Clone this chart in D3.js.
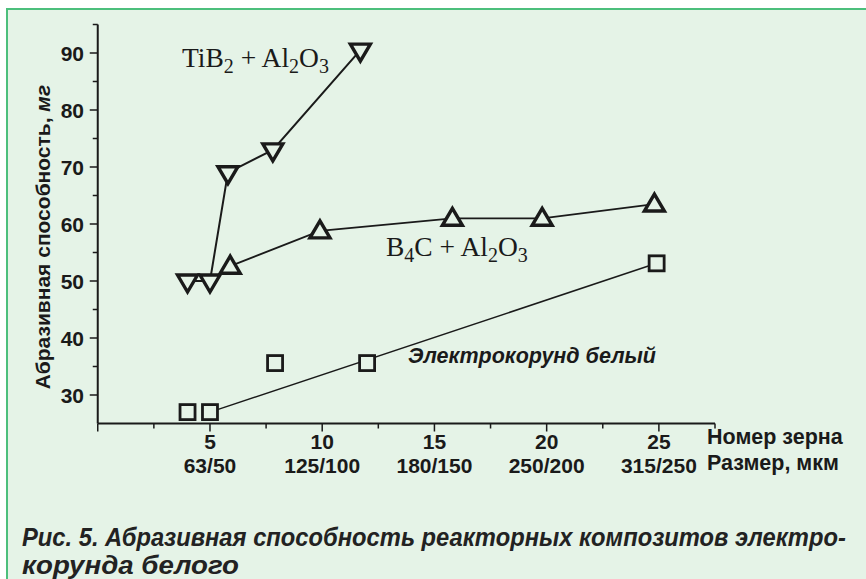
<!DOCTYPE html>
<html><head><meta charset="utf-8">
<script src="https://cdn.jsdelivr.net/npm/d3@7/dist/d3.min.js"></script>
<style>
html,body{margin:0;padding:0;background:#fff;}
svg{display:block;}
</style></head>
<body>
<svg id="chart" width="866" height="579"></svg>
<script>
// ---- data ----
const tib2X = [4, 5, 5.8, 7.8, 11.7];
const tib2Y = [50, 50, 69, 73, 90.5];
const b4cX = [5.9, 9.9, 15.8, 19.8, 24.8];
const b4cY = [52.6, 58.8, 61, 61, 63.5];
const corX = [4, 5, 7.9, 12, 24.9];
const corY = [27, 27, 35.6, 35.6, 53.1];
const corTrendX = [5, 24.9];
const corTrendY = [27, 53.1];
const grainTicks = [5, 10, 15, 20, 25];
const sizeLabels = ["63/50", "125/100", "180/150", "250/200", "315/250"];
const yTicks = [30, 40, 50, 60, 70, 80, 90];

const svg = d3.select("#chart");
const bg = "#e5f3e7", border = "#4cbf7c", ink = "#1a1a1a";

// panel
svg.append("rect").attr("x", 0).attr("y", 0).attr("width", 866).attr("height", 579).attr("fill", "#fff");
svg.append("rect").attr("x", 6).attr("y", 8).attr("width", 860).attr("height", 571).attr("fill", bg);
svg.append("rect").attr("x", 6).attr("y", 8).attr("width", 860).attr("height", 2).attr("fill", border);
svg.append("rect").attr("x", 6).attr("y", 8).attr("width", 2).attr("height", 571).attr("fill", border);

const x = d3.scaleLinear().domain([0, 27.5]).range([97.75, 715]);
const y = d3.scaleLinear().domain([25, 95]).range([423.5, 24.5]);

// axes lines
const g = svg.append("g");
g.append("line").attr("x1", x(0)).attr("x2", x(0)).attr("y1", y(95)).attr("y2", y(25))
  .attr("stroke", ink).attr("stroke-width", 2);
g.append("line").attr("x1", x(0)).attr("x2", x(27.5)).attr("y1", y(25)).attr("y2", y(25))
  .attr("stroke", ink).attr("stroke-width", 2);

// y ticks (every 5)
const yMinor = d3.range(30, 96, 5);
g.selectAll(".yt").data(yMinor).enter().append("line")
  .attr("x1", x(0)).attr("x2", d => x(0) - (d % 10 === 0 ? 8 : 5))
  .attr("y1", d => y(d)).attr("y2", d => y(d)).attr("stroke", ink).attr("stroke-width", 1.5);
// x ticks (every 2.5)
const xMinor = d3.range(0, 27.6, 2.5);
g.selectAll(".xt").data(xMinor).enter().append("line")
  .attr("x1", d => x(d)).attr("x2", d => x(d))
  .attr("y1", y(25)).attr("y2", d => y(25) + (d % 5 === 0 ? 8 : 5)).attr("stroke", ink).attr("stroke-width", 1.5);

const sans = "Liberation Sans, Arial, sans-serif";
// y tick labels
g.selectAll(".yl").data(yTicks).enter().append("text")
  .attr("x", 84).attr("y", d => y(d) + 8).attr("text-anchor", "end")
  .attr("font-family", sans).attr("font-weight", "bold")
  .attr("font-size", 21).attr("fill", ink).text(d => d);

// x tick labels
g.selectAll(".xl").data(grainTicks).enter().append("text")
  .attr("x", d => x(d)).attr("y", 449).attr("text-anchor", "middle")
  .attr("font-family", sans).attr("font-weight", "bold")
  .attr("font-size", 21).attr("fill", ink).text(d => d);
g.selectAll(".xs").data(grainTicks).enter().append("text")
  .attr("x", d => x(d)).attr("y", 473).attr("text-anchor", "middle")
  .attr("font-family", sans).attr("font-weight", "bold")
  .attr("font-size", 21).attr("fill", ink).text((d, i) => sizeLabels[i]);

// axis titles
g.append("text").attr("x", 707).attr("y", 444).attr("font-family", sans).attr("font-weight", "bold")
  .attr("font-size", 21.5).attr("fill", ink).text("Номер зерна");
g.append("text").attr("x", 707).attr("y", 470).attr("font-family", sans).attr("font-weight", "bold")
  .attr("font-size", 21.5).attr("fill", ink).text("Размер, мкм");
const yl = g.append("text").attr("transform", "translate(50,237) rotate(-90)").attr("text-anchor", "middle")
  .attr("font-family", sans).attr("font-weight", "bold").attr("font-size", 21).attr("fill", ink);
yl.append("tspan").text("Абразивная способность, ");
yl.append("tspan").attr("font-style", "italic").text("мг");

// lines
const line = d3.line().x(d => x(d[0])).y(d => y(d[1]));
const pts = (xs, ys) => xs.map((v, i) => [v, ys[i]]);
g.append("path").attr("d", line(pts(tib2X, tib2Y))).attr("fill", "none").attr("stroke", ink).attr("stroke-width", 2);
g.append("path").attr("d", line(pts(b4cX, b4cY))).attr("fill", "none").attr("stroke", ink).attr("stroke-width", 1.8);
g.append("path").attr("d", line(pts(corTrendX, corTrendY))).attr("fill", "none").attr("stroke", ink).attr("stroke-width", 1.5);

// markers
const triDown = "M-10,-6 L10,-6 L0,11 Z";
const triUp = "M-10,7 L10,7 L0,-10 Z";
g.selectAll(".td").data(pts(tib2X, tib2Y)).enter().append("path")
  .attr("d", triDown).attr("transform", d => `translate(${x(d[0])},${y(d[1])})`)
  .attr("fill", bg).attr("stroke", ink).attr("stroke-width", 3.4).attr("stroke-linejoin", "miter");
g.selectAll(".tu").data(pts(b4cX, b4cY)).enter().append("path")
  .attr("d", triUp).attr("transform", d => `translate(${x(d[0])},${y(d[1])})`)
  .attr("fill", bg).attr("stroke", ink).attr("stroke-width", 3.4).attr("stroke-linejoin", "miter");
g.selectAll(".sq").data(pts(corX, corY)).enter().append("rect")
  .attr("x", d => x(d[0]) - 7.5).attr("y", d => y(d[1]) - 7.5).attr("width", 15).attr("height", 15)
  .attr("fill", bg).attr("stroke", ink).attr("stroke-width", 2.8);

// series labels
const serif = "Liberation Serif, Times New Roman, serif";
function chem(xp, yp, parts) {
  const t = g.append("text").attr("x", xp).attr("y", yp).attr("font-family", serif)
    .attr("font-size", 27.5).attr("fill", ink);
  parts.forEach(p => {
    if (p.sub) t.append("tspan").attr("font-size", 20).attr("dy", 6).text(p.s);
    else t.append("tspan").attr("dy", p.after ? -6 : 0).text(p.s);
  });
}
chem(182, 67, [{s:"TiB"},{s:"2",sub:1},{s:" + Al",after:1},{s:"2",sub:1},{s:"O",after:1},{s:"3",sub:1}]);
chem(386, 256, [{s:"B"},{s:"4",sub:1},{s:"C + Al",after:1},{s:"2",sub:1},{s:"O",after:1},{s:"3",sub:1}]);
g.append("text").attr("x", 408).attr("y", 363).attr("font-family", sans).attr("font-weight", "bold")
  .attr("font-style", "italic").attr("font-size", 21.5).attr("fill", ink).text("Электрокорунд белый");

// caption (condensed by horizontal scaling to the reference width)
function caption(txt, xp, yp, width) {
  const t = g.append("text").attr("x", 0).attr("y", 0)
    .attr("font-family", sans).attr("font-weight", "bold")
    .attr("font-style", "italic").attr("font-size", 25).attr("fill", "#222").text(txt);
  const natural = t.node().getComputedTextLength();
  t.attr("transform", `translate(${xp},${yp}) scale(${width / natural},1)`);
}
caption("Рис. 5. Абразивная способность реакторных композитов электро-", 22, 546, 824);
caption("корунда белого", 22, 574, 217);
</script>
</body></html>
